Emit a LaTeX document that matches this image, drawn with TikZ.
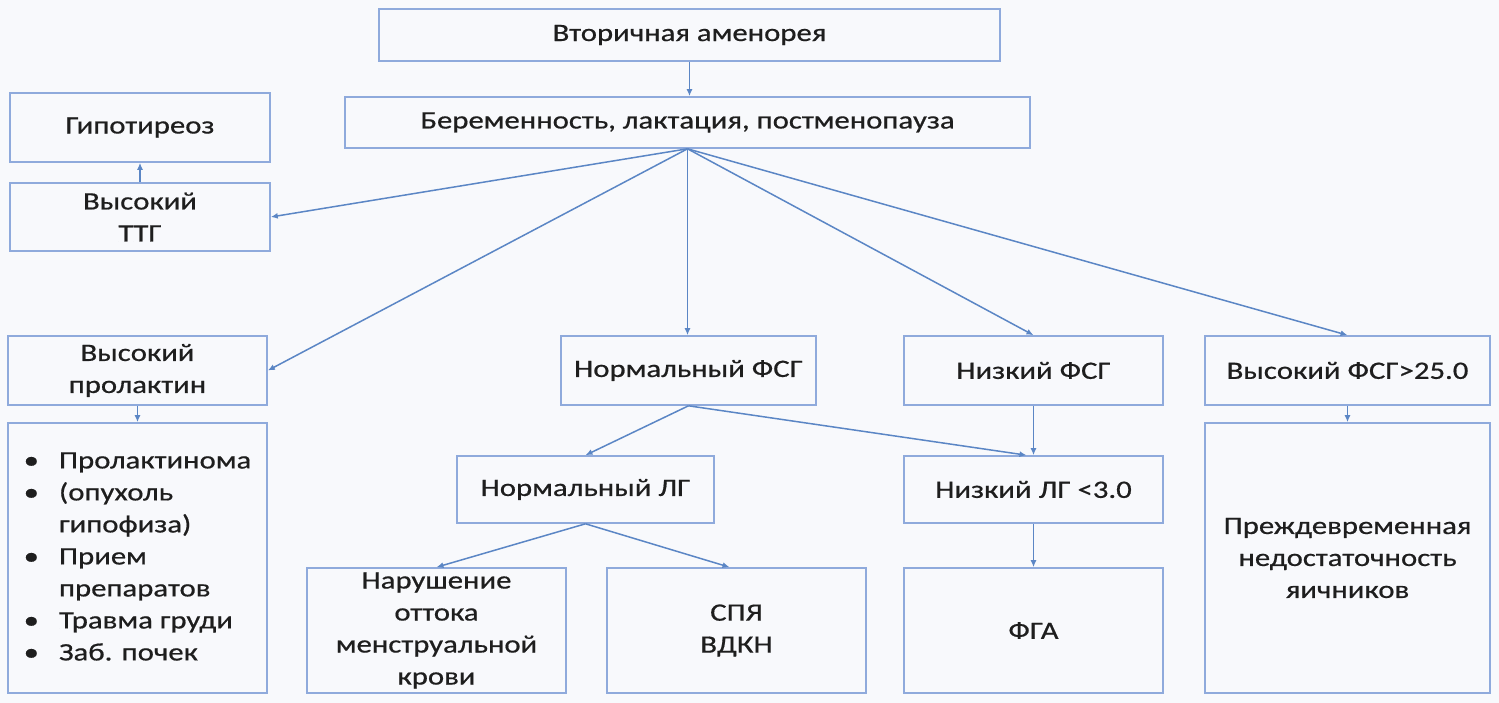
\documentclass[tikz,border=0pt]{standalone}
\usepackage{fontspec}
\setmainfont{Carlito}[FakeStretch=1.23,FakeBold=0.6]
\usepackage{tikz}
\usetikzlibrary{arrows.meta,positioning}
\definecolor{boxline}{HTML}{8FAADC}
\definecolor{arrline}{HTML}{5B86C5}
\definecolor{bgcol}{HTML}{F8F9FC}
\definecolor{txtcol}{HTML}{1E1E1E}

\begin{document}
\begin{tikzpicture}[x=1pt,y=-1pt,
  box/.style={draw=boxline,line width=1.6pt,fill=bgcol,align=center,inner sep=0pt,
    text=txtcol,font=\fontsize{25}{32}\selectfont},
  arr/.style={draw=arrline,line width=1.5pt,-{Latex[length=7pt,width=6pt]}}]
\fill[bgcol] (0,0) rectangle (1499,703);
\useasboundingbox (0,0) rectangle (1499,703);
\node[box,minimum width=621,minimum height=52] (vtor) at (689.5,35) {Вторичная аменорея};
\node[box,minimum width=685,minimum height=51] (ber) at (687.5,122.5) {Беременность, лактация, постменопауза};
\node[box,minimum width=260,minimum height=69] (gipo) at (140,127.5) {Гипотиреоз};
\node[box,minimum width=260,minimum height=68] (ttg) at (140,217) {Высокий\\ТТГ};
\node[box,minimum width=259,minimum height=69] (prl) at (137.5,370.5) {Высокий\\пролактин};
\node[box,minimum width=259,minimum height=270] (spis) at (137.5,558) {%
  \begin{tabular}{@{}l@{\hspace{20pt}}l@{}}
  • & Пролактинома\\
  • & (опухоль\\
    & гипофиза)\\
  • & Прием\\
    & препаратов\\
  • & Травма груди\\
  • & Заб. почек
  \end{tabular}};
\node[box,minimum width=255,minimum height=69] (nfsg) at (688.5,370.5) {Нормальный ФСГ};
\node[box,minimum width=259,minimum height=69] (nizfsg) at (1033.5,370.5) {Низкий ФСГ};
\node[box,minimum width=285,minimum height=69] (vysfsg) at (1347.5,370.5) {Высокий ФСГ>25.0};
\node[box,minimum width=257,minimum height=67] (nlg) at (585.5,489.5) {Нормальный ЛГ};
\node[box,minimum width=259,minimum height=67] (nizlg) at (1033.5,489.5) {Низкий ЛГ <3.0};
\node[box,minimum width=259,minimum height=125] (narush) at (436.5,630.5) {Нарушение\\оттока\\менструальной\\крови};
\node[box,minimum width=259,minimum height=125] (spya) at (736.5,630.5) {СПЯ\\ВДКН};
\node[box,minimum width=259,minimum height=125] (fga) at (1033.5,630.5) {ФГА};
\node[box,minimum width=285,minimum height=270] (prej) at (1347.5,558) {Преждевременная\\недостаточность\\яичников};
\draw[arr] (vtor.south) -- (vtor.south|-ber.north);
\draw[arr] (ttg) -- (gipo);
\draw[arr] (ber.south) -- (ttg.east);
\draw[arr] (ber.south) -- (prl.east);
\draw[arr] (ber.south) -- (ber.south|-nfsg.north);
\draw[arr] (ber.south) -- (nizfsg.north);
\draw[arr] (ber.south) -- (vysfsg.north);
\draw[arr] (prl) -- (spis);
\draw[arr] (vysfsg) -- (prej);
\draw[arr] (nfsg.south) -- (nlg.north);
\draw[arr] (nfsg.south) -- ([xshift=-7]nizlg.north);
\draw[arr] (nizfsg) -- (nizlg);
\draw[arr] (nizlg) -- (fga);
\draw[arr] (nlg.south) -- (narush.north);
\draw[arr] (nlg.south) -- ([xshift=-7]spya.north);
\end{tikzpicture}
\end{document}
